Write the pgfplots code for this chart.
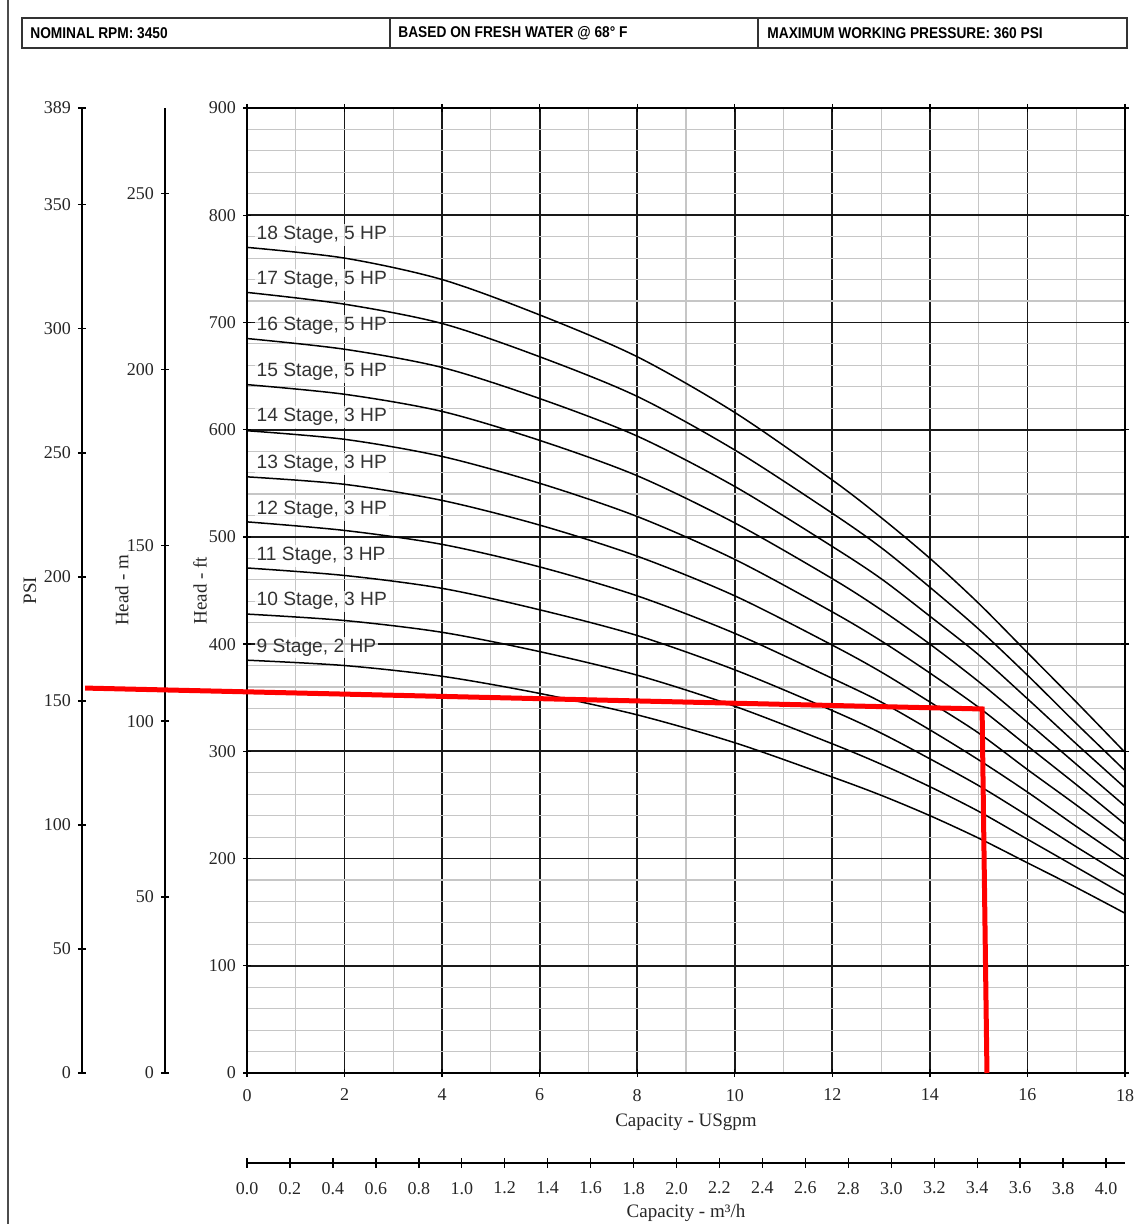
\documentclass[border=0pt]{standalone}
\usepackage{pgfplots}
\pgfplotsset{compat=1.18}
\usepackage{pgfplotstable}
\usepackage{fontspec}
\setmainfont{Liberation Serif}
\newfontfamily\lsans{Liberation Sans}
\newfontfamily\hdr[FakeStretch=0.88]{Liberation Sans}

\pgfplotstableread{
q s9 s10 s11 s12 s13 s14 s15 s16 s17 s18
0 385 428 471 514 556 599 642 685 728 770
2 380 422 464 506 549 591 633 675 717 760
4 370 411 452 493 534 575 617 658 699 740
6 354 393 432 472 511 550 590 629 668 707
8 334 371 408 445 482 519 557 594 631 668
10 308 342 376 410 445 479 513 547 581 616
12 276 307 338 368 399 430 461 491 522 553
13 259 288 317 346 374 403 432 461 490 518
14 240 267 293 320 346 373 400 426 453 480
15 219 244 268 292 317 341 365 390 414 438
16 196 218 240 262 283 305 327 349 371 392
17 173 192 211 230 250 269 288 307 326 346
18 149 166 183 199 216 232 249 266 282 299
}\curves

\pgfplotsset{
  /pgf/number format/assume math mode=true,
  every axis/.append style={
    tick label style={font=\fontsize{9}{10}\selectfont, text=black!85},
    label style={font=\fontsize{9.5}{11}\selectfont, text=black!85},
    tick style={black, line width=0.7pt},
    axis line style={black, line width=1pt},
  },
}
\tikzset{stagelab/.style={anchor=west, inner sep=1pt, fill=white, fill opacity=0.75, text opacity=1, text=black!80, font=\lsans\fontsize{9.6}{11}\selectfont}}

\begin{document}
\begin{tikzpicture}
% page border line
\draw[black!70, line width=1pt] (4pt,0) -- (4pt,612pt);
% header boxes
\draw[black!80, line width=0.9pt] (11pt,588pt) rectangle (563.5pt,603pt);
\draw[black!80, line width=0.9pt] (195pt,588pt) -- (195pt,603pt);
\draw[black!80, line width=0.9pt] (379pt,588pt) -- (379pt,603pt);
\node[anchor=west, inner sep=0pt, font=\hdr\bfseries\fontsize{7.8}{8}\selectfont, text=black] at (15pt,595.5pt) {NOMINAL RPM: 3450};
\node[anchor=west, inner sep=0pt, font=\hdr\bfseries\fontsize{7.8}{8}\selectfont, text=black] at (199pt,595.5pt) {BASED ON FRESH WATER @ 68° F};
\node[anchor=west, inner sep=0pt, font=\hdr\bfseries\fontsize{7.8}{8}\selectfont, text=black] at (383.5pt,595.5pt) {MAXIMUM WORKING PRESSURE: 360 PSI};

% PSI axis
\begin{axis}[at={(41pt,75.5pt)}, anchor=south west, scale only axis,
  width=2pt, height=482.5pt, xmin=0, xmax=1, ymin=0, ymax=389,
  hide x axis, axis y line*=left,
  ytick={0,50,100,150,200,250,300,350,389},
  tick align=center, major tick length=4pt,
  ylabel={PSI},
  ylabel style={at={(axis description cs:-13,0.5)}, anchor=center}]
\end{axis}

% Head - m axis
\begin{axis}[at={(82.5pt,75.5pt)}, anchor=south west, scale only axis,
  width=2pt, height=482.5pt, xmin=0, xmax=1, ymin=0, ymax=274.3,
  hide x axis, axis y line*=left,
  ytick={0,50,100,150,200,250},
  tick align=center, major tick length=4pt,
  ylabel={Head - m},
  ylabel style={at={(axis description cs:-10.75,0.5)}, anchor=center}]
\end{axis}

% m3/h axis
\begin{axis}[at={(123.5pt,30.5pt)}, anchor=south west, scale only axis,
  width=439pt, height=2pt, xmin=0, xmax=4.0882, ymin=0, ymax=1,
  hide y axis, axis x line*=bottom,
  xtick={0,0.2,0.4,0.6,0.8,1.0,1.2,1.4,1.6,1.8,2.0,2.2,2.4,2.6,2.8,3.0,3.2,3.4,3.6,3.8,4.0},
  xticklabel style={yshift=-3.5pt, /pgf/number format/.cd, fixed, fixed zerofill, precision=1},
  tick align=center, major tick length=5pt,
  xlabel={Capacity - m³/h},
  xlabel style={at={(axis description cs:0.5,0)}, anchor=center, inner sep=0pt, yshift=-25pt}]
\end{axis}

% main axis
\begin{axis}[at={(123.5pt,75.5pt)}, anchor=south west, scale only axis,
  width=439pt, height=482.5pt,
  xmin=0, xmax=18, ymin=0, ymax=900,
  xtick={0,2,...,18}, ytick={0,100,...,900},
  xticklabel style={yshift=-2.5pt},
  minor x tick num=1, minor y tick num=4,
  grid=both,
  major grid style={black!90, line width=0.9pt},
  minor grid style={gray!45, line width=0.6pt},
  axis line style={black, line width=1.3pt},
  tick align=center, major tick length=4pt, minor tick length=0pt,
  xlabel={Capacity - USgpm},
  xlabel style={at={(axis description cs:0.5,-0.051)}, anchor=center},
  ylabel={Head - ft},
  ylabel style={at={(axis description cs:-0.0535,0.5)}, anchor=center},
  clip=false]
\pgfplotsinvokeforeach{s9,s10,s11,s12,s13,s14,s15,s16,s17,s18}{
  \addplot[black, line width=0.75pt, smooth, no marks] table[x=q, y=#1] {\curves};
}
\addplot[red, line width=2.5pt, no marks] coordinates {(-3.32,359) (15.07,339.5) (15.17,0)};
\node[stagelab] at (axis cs:0.15,781.6) {18 Stage, 5 HP};
\node[stagelab] at (axis cs:0.15,739.6) {17 Stage, 5 HP};
\node[stagelab] at (axis cs:0.15,696.7) {16 Stage, 5 HP};
\node[stagelab] at (axis cs:0.15,653.8) {15 Stage, 5 HP};
\node[stagelab] at (axis cs:0.15,611.8) {14 Stage, 3 HP};
\node[stagelab] at (axis cs:0.15,568) {13 Stage, 3 HP};
\node[stagelab] at (axis cs:0.15,525) {12 Stage, 3 HP};
\node[stagelab] at (axis cs:0.15,482) {11 Stage, 3 HP};
\node[stagelab] at (axis cs:0.15,440) {10 Stage, 3 HP};
\node[stagelab] at (axis cs:0.15,397) {9 Stage, 2 HP};
\end{axis}
\pgfresetboundingbox
\useasboundingbox (0,0) rectangle (569pt,612pt);
\end{tikzpicture}
\end{document}
